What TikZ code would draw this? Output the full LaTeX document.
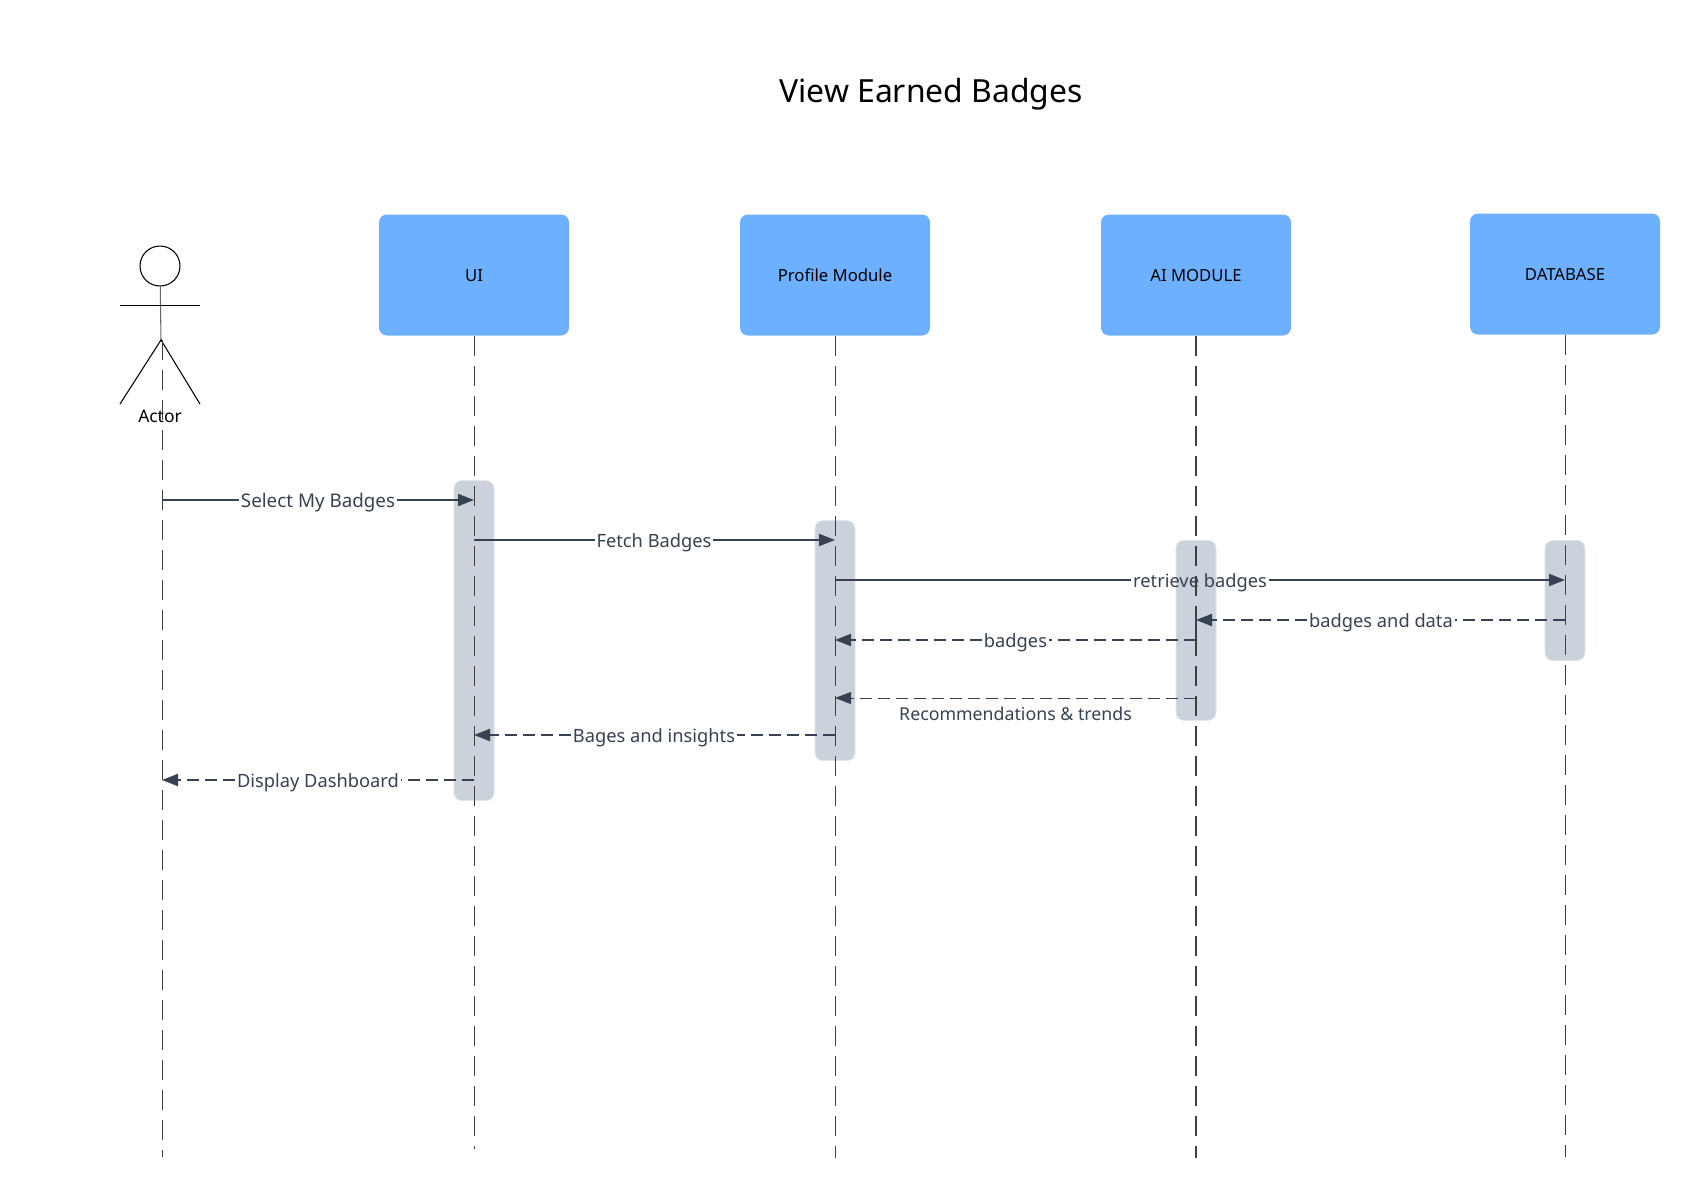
\documentclass[tikz,border=0pt]{standalone}
\usepackage{fontspec}
\setmainfont{Noto Sans}
\usetikzlibrary{arrows.meta}
\definecolor{boxblue}{HTML}{6DB0FF}
\definecolor{activegray}{HTML}{CBD2DB}
\definecolor{msgslate}{HTML}{374151}
\tikzset{
    module/.style={fill=boxblue,rounded corners=0.8mm,minimum width=1.9cm,minimum height=1.21cm,
        inner sep=0pt,text height=4.5pt,text depth=1pt,font=\fontsize{4.75}{6}\selectfont},
    lifeline/.style={draw=black!75,line width=0.27pt,dash pattern=on 2mm off 1mm},
    active/.style={fill=activegray,draw=activegray!60,line width=0.2pt,rounded corners=0.8mm,
        minimum width=0.4cm,inner sep=0pt},
    msg/.style={draw=msgslate,line width=0.6pt},
    reply/.style={msg,dash pattern=on 1.2mm off 0.6mm},
    tip/.style={-{Triangle[length=1.6mm,width=1.2mm]}},
    msglabel/.style={text=msgslate,inner sep=0.3pt,text height=5pt,text depth=1pt,
        font=\fontsize{5.2}{6}\selectfont},
}
\begin{document}
\begin{tikzpicture}
    \useasboundingbox (0,0) rectangle (17,-11.97);
    %% Title
    \node[font=\fontsize{9.07}{11}\selectfont] (title) at (9.31,-0.945) {View Earned Badges};
    %% Modules
    \node[module] (ui) at (4.74,-2.75) {UI};
    \node[module] (profile) at (8.35,-2.75) {Profile Module};
    \node[module] (ai) at (11.96,-2.75) {AI MODULE};
    \node[module] (db) at (15.65,-2.74) {DATABASE};
    %% Activation bars
    \node[active,minimum height=3.20cm] (uibar) at (4.74,-6.406) {};
    \node[active,minimum height=2.40cm] (profilebar) at (8.35,-6.406) {};
    \node[active,minimum height=1.80cm] (aibar) at (11.96,-6.303) {};
    \node[active,minimum height=1.20cm] (dbbar) at (15.65,-6.005) {};
    %% Actor
    \node[draw,circle,line width=0.3pt,minimum size=0.4cm,inner sep=0pt] (head) at (1.60,-2.66) {};
    \coordinate (hip) at (1.61,-3.40);
    \coordinate (armleft) at (1.20,-3.055);
    \coordinate (armright) at (2.00,-3.055);
    \coordinate (footleft) at (1.20,-4.04);
    \coordinate (footright) at (2.00,-4.04);
    \draw[line width=0.3pt,black!60] (head) -- (hip);
    \draw[line width=0.27pt] (armleft) -- (armright);
    \draw[line width=0.3pt] (footleft) -- (hip) -- (footright);
    %% Lifelines
    \coordinate (actorstart) at (1.62,-3.40);
    \coordinate (actorend) at (1.62,-11.565);
    \coordinate (uiend) at (4.74,-11.49);
    \coordinate (profileend) at (8.35,-11.58);
    \coordinate (aiend) at (11.96,-11.58);
    \coordinate (dbend) at (15.65,-11.565);
    \draw[lifeline] (actorstart) -- (actorend);
    \draw[lifeline] (ui) -- (uiend);
    \draw[lifeline] (profile) -- (profileend);
    \draw[lifeline,line width=0.55pt] (ai) -- (aiend);
    \draw[lifeline] (db) -- (dbend);
    \node[font=\fontsize{4.95}{6}\selectfont] (actor) at (1.60,-4.16) {Actor};
    %% Message rows on the lifelines
    \foreach \n/\y in {select/-5.00,fetch/-5.40,retrieve/-5.80,data/-6.20,badges/-6.40,
        rec/-6.98,insights/-7.35,display/-7.80} {
        \coordinate (actor\n) at (1.62,\y);
        \coordinate (ui\n) at (4.74,\y);
        \coordinate (profile\n) at (8.35,\y);
        \coordinate (ai\n) at (11.96,\y);
        \coordinate (db\n) at (15.65,\y);
    }
    %% Messages
    \node[msglabel,font=\fontsize{5.35}{6}\selectfont] (select) at (3.18,-5.00) {Select My Badges};
    \draw[msg] (actorselect) -- (select);
    \draw[msg,tip] (select) -- (uiselect);
    \node[msglabel] (fetch) at (6.54,-5.40) {Fetch Badges};
    \draw[msg] (uifetch) -- (fetch);
    \draw[msg,tip] (fetch) -- (profilefetch);
    \node[msglabel] (retrieve) at (12.00,-5.80) {retrieve badges};
    \draw[msg] (profileretrieve) -- (retrieve);
    \draw[msg,tip] (retrieve) -- (dbretrieve);
    \node[msglabel] (data) at (13.81,-6.20) {badges and data};
    \draw[reply] (dbdata) -- (data);
    \draw[reply,tip] (data) -- (aidata);
    \draw[msg] (aidata) -- (aibadges);
    \node[msglabel] (badges) at (10.155,-6.40) {badges};
    \draw[reply] (aibadges) -- (badges);
    \draw[reply,tip] (badges) -- (profilebadges);
    \draw[reply,tip,line width=0.27pt] (airec) -- (profilerec);
    \node[msglabel,font=\fontsize{5.05}{6}\selectfont] (rec) at (10.155,-7.13) {Recommendations \& trends};
    \node[msglabel] (insights) at (6.54,-7.35) {Bages and insights};
    \draw[reply] (profileinsights) -- (insights);
    \draw[reply,tip] (insights) -- (uiinsights);
    \node[msglabel] (display) at (3.18,-7.80) {Display Dashboard};
    \draw[reply] (uidisplay) -- (display);
    \draw[reply,tip] (display) -- (actordisplay);
\end{tikzpicture}
\end{document}
